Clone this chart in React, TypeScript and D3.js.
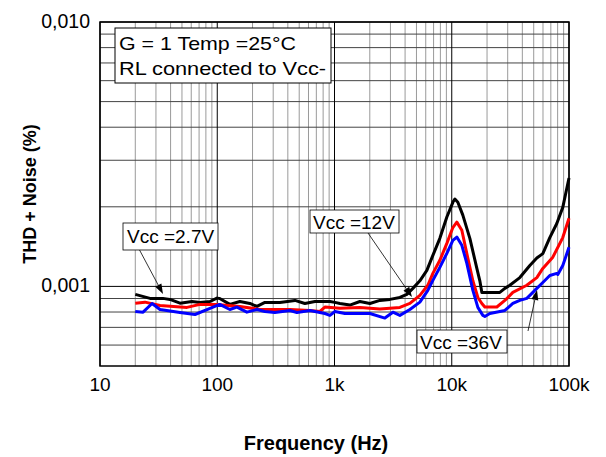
import React from "react";
import * as d3 from "d3";

// ---- Data ----
const xTickValues = [10, 100, 1000, 10000, 100000];
const xTickLabels = ["10", "100", "1k", "10k", "100k"];
const yTickValues = [0.001, 0.01];
const yTickLabels = ["0,001", "0,010"];

const freqBlack = [20, 26.7, 34.4, 39.5, 48.1, 60.8, 71.2, 86.7, 99.4, 105, 128, 156, 190, 218, 255, 342, 460, 559, 681, 914, 1008, 1112, 1353, 1646, 2004, 2438, 2968, 3610, 4140, 4660, 5346, 6134, 6902, 7916, 9083, 10220, 10630, 11270, 12430, 14270, 16370, 17360, 18060, 21120, 25700, 28370, 31280, 38080, 46340, 53150, 59800, 68600, 78700, 88500, 100000];
const thdBlack = [0.000933, 0.000901, 0.000901, 0.000893, 0.000864, 0.000877, 0.00087, 0.000877, 0.000903, 0.0009, 0.000855, 0.000877, 0.000862, 0.00084, 0.00087, 0.00087, 0.000885, 0.000862, 0.000877, 0.000877, 0.00087, 0.000862, 0.00085, 0.000877, 0.000862, 0.000885, 0.000893, 0.000908, 0.000933, 0.000983, 0.00105, 0.00115, 0.00131, 0.00152, 0.00183, 0.00208, 0.00214, 0.00208, 0.00186, 0.00152, 0.00117, 0.00105, 0.000949, 0.000949, 0.000949, 0.000983, 0.00101, 0.00108, 0.0012, 0.00128, 0.00133, 0.00153, 0.00173, 0.00199, 0.00257];

const freqRed = [20, 24.2, 32.5, 55.2, 71.2, 99.4, 156, 231, 417, 617, 751, 828, 1112, 1646, 2438, 3610, 4394, 5346, 6252, 6902, 7916, 9083, 10220, 11050, 12190, 13450, 15140, 16700, 18060, 19150, 24240, 28370, 33190, 43650, 53150, 59800, 72780, 88500, 100000];
const thdRed = [0.000864, 0.000872, 0.000847, 0.000833, 0.000855, 0.000855, 0.00084, 0.000818, 0.000818, 0.000811, 0.000804, 0.000835, 0.000826, 0.000833, 0.000822, 0.000833, 0.000862, 0.000925, 0.00101, 0.00112, 0.001255, 0.001455, 0.00167, 0.00175, 0.00163, 0.00133, 0.00105, 0.000908, 0.000862, 0.000836, 0.000836, 0.000885, 0.000949, 0.00101, 0.00108, 0.00117, 0.00129, 0.00153, 0.00181];

const freqBlue = [20, 23.3, 27.8, 32.5, 48.1, 64.6, 86.7, 105, 128, 147, 179, 218, 255, 310, 417, 478, 617, 828, 914, 1008, 1227, 1646, 2004, 2690, 3147, 3610, 4394, 5346, 6252, 6902, 7916, 9083, 10220, 11050, 12190, 13450, 15140, 16700, 18420, 19150, 21120, 28370, 33190, 38080, 43650, 46340, 51100, 53150, 59800, 68600, 78700, 80250, 88500, 100000];
const thdBlue = [0.000804, 0.000799, 0.000862, 0.000818, 0.000797, 0.000783, 0.000826, 0.000855, 0.000818, 0.000835, 0.000799, 0.000818, 0.000804, 0.000797, 0.000811, 0.000797, 0.000811, 0.00079, 0.000777, 0.000804, 0.00079, 0.00079, 0.00079, 0.000759, 0.000799, 0.000777, 0.000818, 0.000872, 0.000966, 0.001054, 0.00118, 0.001334, 0.001493, 0.001537, 0.00143, 0.001222, 0.000966, 0.000833, 0.000777, 0.00077, 0.00079, 0.000811, 0.000862, 0.000885, 0.000901, 0.000925, 0.000966, 0.000983, 0.001035, 0.0011, 0.00112, 0.00111, 0.0012, 0.001405];

const series = [
  { name: "Vcc=2.7V", color: "#000000", freq: freqBlack, thd: thdBlack },
  { name: "Vcc=12V", color: "#ff0000", freq: freqRed, thd: thdRed },
  { name: "Vcc=36V", color: "#0000ff", freq: freqBlue, thd: thdBlue },
];

const conditionLines = ["G = 1 Temp =25°C", "RL connected to Vcc-"];

// ---- Layout ----
const W = 606;
const H = 457;
const M = { left: 100, top: 22, right: 37, bottom: 91 };
const PW = W - M.left - M.right;
const PH = H - M.top - M.bottom;
const FONT = "'Liberation Sans', Arial, Helvetica, sans-serif";

export default function App() {
  const x = d3.scaleLog().domain([10, 100000]).range([M.left, M.left + PW]);
  const y = d3.scaleLog().domain([0.0005, 0.01]).range([M.top + PH, M.top]);

  const minorX: number[] = [];
  for (let d = 10; d < 100000; d *= 10) for (let k = 2; k <= 9; k++) minorX.push(d * k);
  const minorY: number[] = [];
  for (let k = 6; k <= 9; k++) minorY.push(k * 0.0001);
  for (let k = 2; k <= 9; k++) minorY.push(k * 0.001);

  const line = d3
    .line<[number, number]>()
    .x((d) => x(d[0]))
    .y((d) => y(d[1]))
    .curve(d3.curveLinear);

  const arrow = (x1: number, y1: number, x2: number, y2: number, key: string) => {
    const ang = Math.atan2(y2 - y1, x2 - x1);
    const len = 10;
    const w = 3.5;
    const bx = x2 - len * Math.cos(ang);
    const by = y2 - len * Math.sin(ang);
    const px = -Math.sin(ang) * w;
    const py = Math.cos(ang) * w;
    return (
      <g key={key}>
        <line x1={x1} y1={y1} x2={bx} y2={by} stroke="#000" strokeWidth={0.8} />
        <polygon points={`${x2},${y2} ${bx + px},${by + py} ${bx - px},${by - py}`} fill="#000" />
      </g>
    );
  };

  return (
    <svg
      width={W}
      height={H}
      style={{ position: "absolute", left: 0, top: 0, background: "#fff" }}
      fontFamily={FONT}
    >
      <rect x={0} y={0} width={W} height={H} fill="#fff" />
      {minorX.map((f) => (
        <line key={"mx" + f} x1={x(f)} x2={x(f)} y1={M.top} y2={M.top + PH} stroke="#9a9a9a" strokeWidth={1} />
      ))}
      {minorY.map((v) => (
        <line key={"my" + v} x1={M.left} x2={M.left + PW} y1={y(v)} y2={y(v)} stroke="#444" strokeWidth={1} />
      ))}
      {xTickValues.map((f) => (
        <line key={"Mx" + f} x1={x(f)} x2={x(f)} y1={M.top} y2={M.top + PH} stroke="#000" strokeWidth={1} />
      ))}
      {yTickValues.map((v) => (
        <line key={"My" + v} x1={M.left} x2={M.left + PW} y1={y(v)} y2={y(v)} stroke="#000" strokeWidth={1} />
      ))}
      <rect x={M.left} y={M.top} width={PW} height={PH} fill="none" stroke="#000" strokeWidth={1.5} />

      {series.map((s) => (
        <path
          key={s.name}
          d={line(s.freq.map((f, i) => [f, s.thd[i]] as [number, number])) || ""}
          fill="none"
          stroke={s.color}
          strokeWidth={3}
          strokeLinejoin="round"
        />
      ))}

      {xTickValues.map((f, i) => (
        <text key={"xt" + f} x={x(f)} y={M.top + PH + 25} textAnchor="middle" fontSize={19}>
          {xTickLabels[i]}
        </text>
      ))}
      {yTickValues.map((v, i) => (
        <text key={"yt" + v} x={M.left - 10} y={y(v) + 6} textAnchor="end" fontSize={19.5}>
          {yTickLabels[i]}
        </text>
      ))}

      <text x={316} y={450} textAnchor="middle" fontSize={20} fontWeight="bold">
        Frequency (Hz)
      </text>
      <text
        transform={`translate(36,${M.top + PH / 2}) rotate(-90)`}
        textAnchor="middle"
        fontSize={18}
        fontWeight="bold"
      >
        THD + Noise (%)
      </text>

      <rect x={115} y={28} width={216} height={55} fill="#fff" stroke="#000" strokeWidth={1} />
      {conditionLines.map((t, i) => (
        <text
          key={t}
          x={119}
          y={50 + i * 25}
          fontSize={18.5}
          textLength={i === 0 ? 177 : 207}
          lengthAdjust="spacingAndGlyphs"
        >
          {t}
        </text>
      ))}

      {arrow(139, 249, 163, 294, "a1")}
      <rect x={123} y={223} width={95} height={27} fill="#fff" stroke="#000" strokeWidth={0.8} />
      <text x={127} y={243} fontSize={19}>Vcc =2.7V</text>

      {arrow(368, 233, 412, 297, "a2")}
      <rect x={310} y={210} width={89} height={23} fill="#fff" stroke="#000" strokeWidth={0.8} />
      <text x={313} y={229} fontSize={19}>Vcc =12V</text>

      {arrow(528, 331, 537, 290, "a3")}
      <rect x={417} y={330} width={90} height={23} fill="#fff" stroke="#000" strokeWidth={0.8} />
      <text x={420} y={349} fontSize={19}>Vcc =36V</text>
    </svg>
  );
}
